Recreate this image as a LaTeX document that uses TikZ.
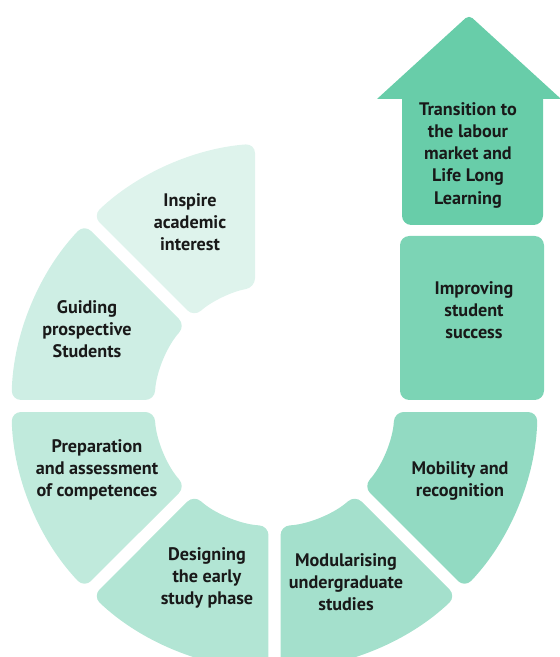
\documentclass[tikz,border=0pt]{standalone}
\usepackage{fontspec}
\setsansfont{PT Sans}

\definecolor{inspirefill}{RGB}{222,243,236}
\definecolor{guidingfill}{RGB}{206,238,228}
\definecolor{prepfill}{RGB}{192,234,220}
\definecolor{designfill}{RGB}{178,229,212}
\definecolor{modulfill}{RGB}{164,224,204}
\definecolor{mobilfill}{RGB}{146,218,194}
\definecolor{improvefill}{RGB}{124,212,181}
\definecolor{transfill}{RGB}{104,205,169}

\begin{document}
\begin{tikzpicture}[
    x=0.03cm, y=0.03cm,
    piece/.style={rounded corners=8pt},
    steptext/.style={align=center, text=black!90, font=\sffamily\bfseries\fontsize{15.5}{19}\selectfont},
]
    \useasboundingbox (-274.5,-251) rectangle (284.5,406);

    % ring pieces, centre of the ring at the origin
    \fill[piece, inspirefill] (133.69:263) arc[start angle=133.69, end angle=94.25, radius=263] -- (99.35:120) arc[start angle=99.35, end angle=132.13, radius=120] -- cycle;
    \fill[piece, guidingfill] (136.31:263) arc[start angle=136.31, end angle=178.69, radius=263] -- (177.13:120) arc[start angle=177.13, end angle=137.87, radius=120] -- cycle;
    \fill[piece, prepfill] (181.31:263) arc[start angle=181.31, end angle=223.69, radius=263] -- (222.13:120) arc[start angle=222.13, end angle=182.87, radius=120] -- cycle;
    \fill[piece, designfill] (226.31:263) arc[start angle=226.31, end angle=268.69, radius=263] -- (267.13:120) arc[start angle=267.13, end angle=227.87, radius=120] -- cycle;
    \fill[piece, modulfill] (271.31:263) arc[start angle=271.31, end angle=313.69, radius=263] -- (312.13:120) arc[start angle=312.13, end angle=272.87, radius=120] -- cycle;
    \fill[piece, mobilfill] (316.31:263) arc[start angle=316.31, end angle=358.69, radius=263] -- (357.13:120) arc[start angle=357.13, end angle=317.87, radius=120] -- cycle;

    % straight part and arrow
    \fill[piece, improvefill] (125.5,6) rectangle (269.5,170);
    \fill[transfill] (127.5,200) [rounded corners=8pt] -- (127.5,181) -- (268.5,181) -- (268.5,200) [sharp corners] -- (268.5,307) -- (286.5,307) [rounded corners=4pt] -- (194.5,391) [sharp corners] -- (102.5,307) -- (127.5,307) -- cycle;

    \node[steptext] (inspire) at (-84.5,184) {Inspire\\academic\\interest};
    \node[steptext] (guiding) at (-187.5,77) {Guiding\\prospective\\Students};
    \node[steptext] (prep) at (-177.5,-64) {Preparation\\and assessment\\of competences};
    \node[steptext] (design) at (-67.5,-172) {Designing\\the early\\study phase};
    \node[steptext] (modul) at (71.5,-176) {Modularising\\undergraduate\\studies};
    \node[steptext] (mobil) at (185.5,-75) {Mobility and\\recognition};
    \node[steptext] (improve) at (199.5,96) {Improving\\student\\success};
    \node[steptext] (trans) at (193.5,251) {Transition to\\the labour\\market and\\Life Long\\Learning};
\end{tikzpicture}
\end{document}
